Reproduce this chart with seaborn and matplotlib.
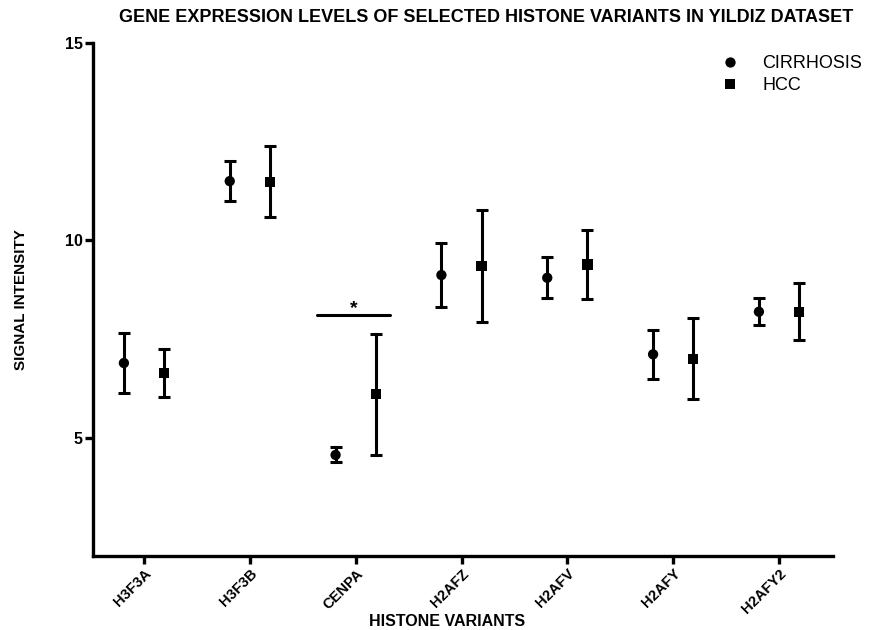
import numpy as np
import pandas as pd
import matplotlib
matplotlib.use("Agg")
import matplotlib.pyplot as plt
import seaborn as sns

categories = ["H3F3A", "H3F3B", "CENPA", "H2AFZ", "H2AFV", "H2AFY", "H2AFY2"]
cirrhosis_mean = [6.89, 11.50, 4.56, 9.12, 9.05, 7.11, 8.19]
cirrhosis_err = [0.76, 0.50, 0.19, 0.80, 0.52, 0.62, 0.34]
hcc_mean = [6.64, 11.48, 6.10, 9.35, 9.39, 7.00, 8.19]
hcc_err = [0.61, 0.90, 1.53, 1.43, 0.87, 1.03, 0.72]
series_names = ["CIRRHOSIS", "HCC"]
sig_level = 8.11

sns.set_theme(style="white")
plt.rcParams["font.family"] = ["Liberation Sans", "DejaVu Sans"]
plt.rcParams.update({"text.color": "black", "axes.labelcolor": "black",
                     "xtick.color": "black", "ytick.color": "black"})

offset = 0.19
rows = []
for i, c in enumerate(categories):
    rows.append(dict(cat=c, pos=i - offset, mean=cirrhosis_mean[i], err=cirrhosis_err[i], group=series_names[0]))
    rows.append(dict(cat=c, pos=i + offset, mean=hcc_mean[i], err=hcc_err[i], group=series_names[1]))
df = pd.DataFrame(rows)

fig = plt.figure(figsize=(8.74, 6.3), dpi=100)
ax = fig.add_axes([0.1064, 0.1175, 0.9531 - 0.1064, 0.9317 - 0.1175])

for g in series_names:
    d = df[df.group == g]
    ax.errorbar(d["pos"], d["mean"], yerr=d["err"], fmt="none", ecolor="black",
                elinewidth=2.2, capsize=4.5, capthick=2.2, zorder=2)

sns.scatterplot(data=df, x="pos", y="mean", style="group", markers={"CIRRHOSIS": "o", "HCC": "s"},
                color="black", s=55, edgecolor="black", linewidth=0, ax=ax, zorder=3, legend=True)

# significance bar over CENPA
ci = categories.index("CENPA")
ax.plot([ci - 0.37, ci + 0.32], [sig_level, sig_level], color="black", lw=2.2)
ax.text(ci - 0.02, sig_level - 0.05, "*", ha="center", va="bottom", fontsize=14, fontweight="bold")

ax.set_xlim(-0.482, 6.51)
ax.set_ylim(2, 15)
ax.set_yticks([5, 10, 15])
ax.set_xticks(range(len(categories)))
ax.set_xticklabels(categories, rotation=45, ha="right", rotation_mode="anchor",
                   fontsize=10.5, fontweight="bold")
for lab in ax.get_yticklabels():
    lab.set_fontweight("bold")
    lab.set_fontsize(11.5)

for s in ["top", "right"]:
    ax.spines[s].set_visible(False)
for s in ["left", "bottom"]:
    ax.spines[s].set_linewidth(2.4)
    ax.spines[s].set_color("black")
ax.tick_params(axis="both", direction="out", length=6, width=2.4, color="black", pad=1.5,
               bottom=True, left=True)

ax.set_xlabel("HISTONE VARIANTS", fontsize=11.5, fontweight="bold")
ax.xaxis.set_label_coords(0.478, -0.113)
ax.set_ylabel("SIGNAL INTENSITY", fontsize=11, fontweight="bold",
              family=["Liberation Sans Narrow", "Liberation Sans", "DejaVu Sans"])
ax.yaxis.set_label_coords(-0.088, 0.5)
fig.text(0.556, 0.972, "GENE EXPRESSION LEVELS OF SELECTED HISTONE VARIANTS IN YILDIZ DATASET",
         ha="center", va="center", fontsize=13, fontweight="bold",
         family=["Liberation Sans", "DejaVu Sans"])

leg = ax.legend(loc="upper left", bbox_to_anchor=(0.836, 0.976), frameon=False, fontsize=13,
                handletextpad=0.8, handlelength=2.0, labelspacing=0.25, borderpad=0,
                borderaxespad=0, title=None)

fig.savefig("out.png", dpi=100)
